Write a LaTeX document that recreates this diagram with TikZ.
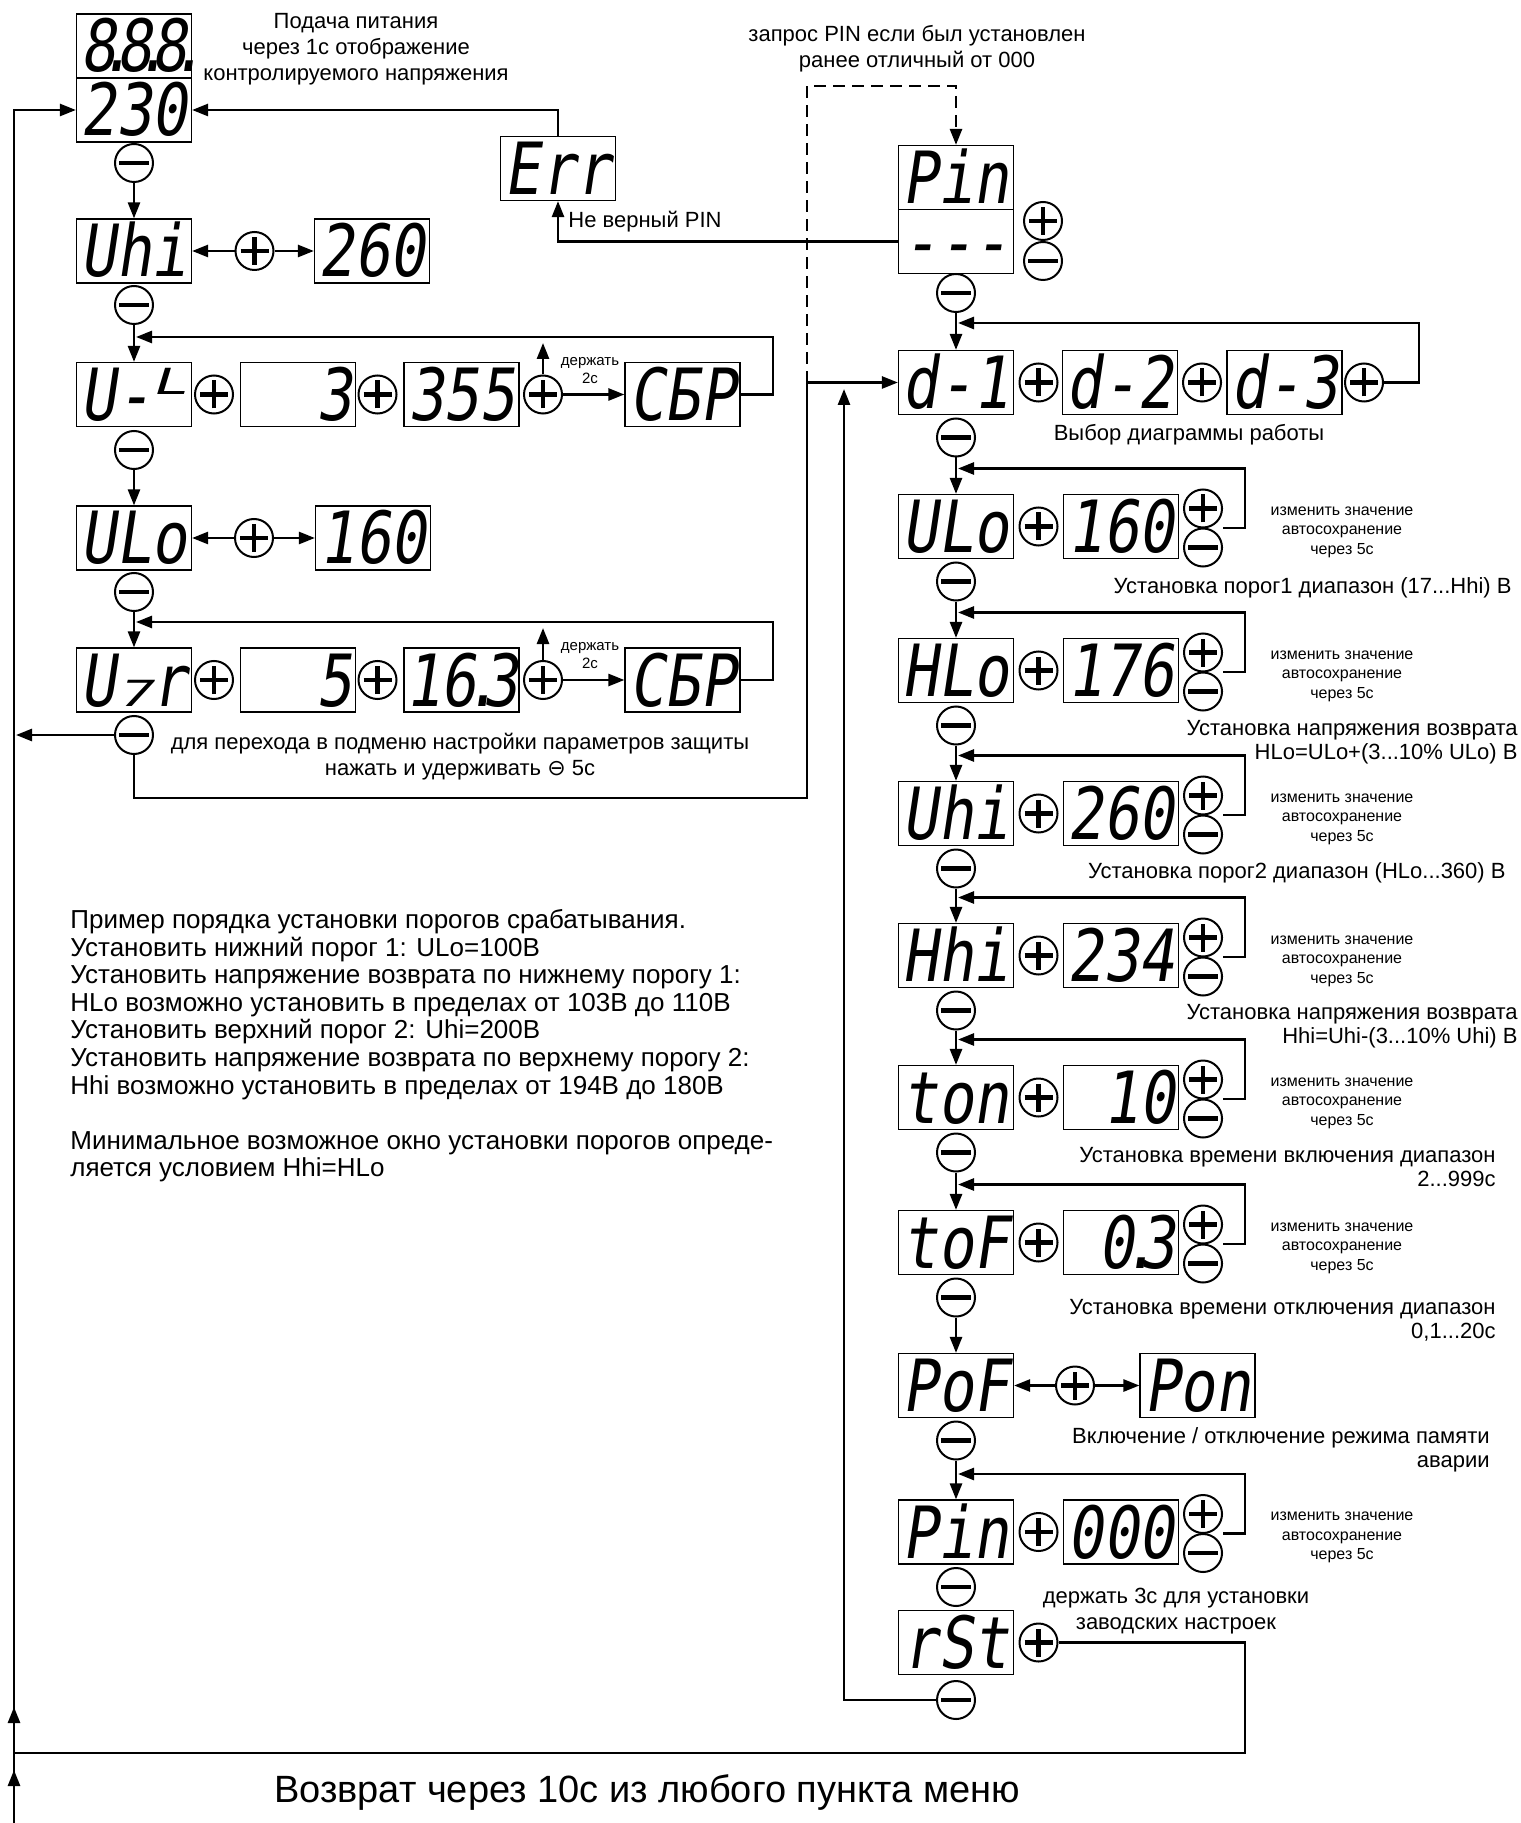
\documentclass[tikz,border=0pt]{standalone}
\usepackage{fontspec}
\setmainfont{Liberation Sans}
\newfontfamily\segfont{DejaVu Sans Mono}[FakeStretch=0.82,FakeSlant=0.15]
\newfontfamily\symfont{DejaVu Sans}
\usepackage{xcolor}
\usepackage{tikz}
\usetikzlibrary{arrows.meta,calc}
\newcommand{\dpt}{\kern-.24em\rlap{.}\kern.24em}
\newcommand{\dpw}{\kern-.16em\rlap{.}\kern.24em}

\tikzset{
  disp/.style={draw,line width=0.6pt,minimum width=57.5pt,minimum height=32pt,inner sep=0pt,
    text height=26pt,text depth=0pt,font=\segfont\fontsize{36}{36}\selectfont},
  rdisp/.style={disp,text width=54pt,align=right},
  btn/.style={circle,draw,line width=1pt,minimum size=19pt,inner sep=0pt},
  pbtn/.style={btn,path picture={
    \draw[line width=2.2pt] ([xshift=-7pt]path picture bounding box.center) -- ([xshift=7pt]path picture bounding box.center);
    \draw[line width=2.2pt] ([yshift=-7pt]path picture bounding box.center) -- ([yshift=7pt]path picture bounding box.center);}},
  mbtn/.style={btn,path picture={
    \draw[line width=2.2pt] ([xshift=-7.5pt]path picture bounding box.center) -- ([xshift=7.5pt]path picture bounding box.center);}},
  link/.style={line width=1.3pt,-{Triangle[length=8pt,width=6pt]}},
  wire/.style={line width=1.3pt},
  txt/.style={font=\fontsize{11}{13}\selectfont,align=center,inner sep=0pt},
  remark/.style={font=\fontsize{11}{12}\selectfont,align=right,anchor=east,inner sep=0pt},
  memo/.style={font=\fontsize{8}{9.75}\selectfont,align=center,inner sep=0pt},
  hold/.style={font=\fontsize{7.5}{9}\selectfont,align=center,inner sep=0pt}
}

\begin{document}
\begin{tikzpicture}[x=0.5pt,y=-0.5pt]
\useasboundingbox (0,0) rectangle (1520,1823);
% left column
	\node[disp] at (134,46) (t888) {8\dpt8\dpt8\dpt};
	\node[disp] at (134,110) (t230) {230};
	\node[txt] at (356,49) (power) {Подача питания\\через 1с отображение\\контролируемого напряжения};
	\node[disp] at (558,168.5) (err) {Err};
	\node[txt,anchor=west] at (568,222) (badpin) {Не верный PIN};
	\node[mbtn] at (134,163) (m0) {};
	\node[disp] at (134,251) (uhi) {Uhi};
	\node[pbtn] at (254.5,251) (p0) {};
	\node[disp] at (372,251) (v260) {260};
	\node[mbtn] at (134,305) (m1) {};
	\node[disp] at (134,394.5) (ul) {U-\raisebox{.36em}{\scalebox{1}[.5]{L}}};
	\node[pbtn] at (214,394.5) (pa) {};
	\node[rdisp] at (298,394.5) (v3) {3};
	\node[pbtn] at (377.5,394.5) (pb) {};
	\node[disp] at (461.5,394.5) (v355) {355};
	\node[pbtn] at (543,394.5) (pc) {};
	\node[disp] at (682.5,394.5) (cbp1) {СБР};
	\node[hold] at (590,371) (hold1) {держать\\2с};
	\node[mbtn] at (134,450) (m2) {};
	\node[disp] at (134,538) (ulo) {ULo};
	\node[pbtn] at (254,538) (p1) {};
	\node[disp] at (373,538) (v160) {160};
	\node[mbtn] at (134,592) (m3) {};
	\node[disp] at (134,680) (utr) {U\scalebox{1}[.5]{7}r};
	\node[pbtn] at (214,680) (pd) {};
	\node[rdisp] at (298,680) (v5) {5};
	\node[pbtn] at (377.5,680) (pe) {};
	\node[disp] at (461.5,680) (v163) {16\dpw3};
	\node[pbtn] at (543,680) (pf) {};
	\node[disp] at (682.5,680) (cbp2) {СБР};
	\node[hold] at (590,656) (hold2) {держать\\2с};
	\node[mbtn] at (134,735) (m4) {};
	\node[txt] at (460,757) (subnote) {для перехода в подменю настройки параметров защиты\\нажать и удерживать {\symfont ⊖} 5с};
	\node[font=\fontsize{13}{13.8}\selectfont,align=left,anchor=north west,inner sep=0pt] at (70,909) (example) {Пример порядка установки порогов срабатывания.\\Установить нижний порог 1: ULo=100В\\Установить напряжение возврата по нижнему порогу 1:\\HLo возможно установить в пределах от 103В до 110В\\Установить верхний порог 2: Uhi=200В\\Установить напряжение возврата по верхнему порогу 2:\\Hhi возможно установить в пределах от 194В до 180В\\[13.8pt]Минимальное возможное окно установки порогов опреде-\\ляется условием Hhi=HLo};
	\node[font=\fontsize{19}{22}\selectfont] at (647,1792) (back) {Возврат через 10с из любого пункта меню};
	\coordinate (bot) at (14,1823);
	\coordinate (tipa) at (14,1707);
	\coordinate (tipb) at (14,1770);
	\coordinate (jl) at (14,1753);
	\coordinate (r1) at (773,337);
	\coordinate (r2) at (773,622);
	\coordinate (h1) at (543,343);
	\coordinate (h2) at (543,628);
	\coordinate (j1) at (807,798);
	\coordinate (jd) at (807,383);
	\coordinate (dtop) at (807,86);
	\coordinate (jr) at (844,389);
	\coordinate (rc) at (1245,1753);
% right column
	\node[txt] at (917,48.5) (pinreq) {запрос PIN если был установлен\\ранее отличный от 000};
	\node[disp] at (956,177.5) (pinname) {Pin};
	\node[disp] at (956,241.5) (pinval) {-{}-{}-};
	\node[pbtn] at (1043,221) (ppin) {};
	\node[mbtn] at (1043,261) (mpin) {};
	\node[mbtn] at (956,293) (mp0) {};
	\node[disp] at (956,382.5) (d1) {d-1};
	\node[pbtn] at (1038.5,382.5) (pd1) {};
	\node[disp] at (1120,382.5) (d2) {d-2};
	\node[pbtn] at (1202,382.5) (pd2) {};
	\node[disp] at (1284.5,382.5) (d3) {d-3};
	\node[pbtn] at (1364,382.5) (pd3) {};
	\coordinate (rd) at (1419,323);
	\node[txt] at (1189,435) (dsel) {Выбор диаграммы работы};
	\node[mbtn] at (956,437.5) (md) {};

	\node[disp] at (956,526.5) (ulo2) {ULo};
	\node[pbtn] at (1038.5,526.5) (pulo) {};
	\node[disp] at (1121,526.5) (vulo) {160};
	\node[pbtn] at (1203,508.5) (pulo2) {};
	\node[mbtn] at (1203,547.5) (mulo2) {};
	\node[memo] at (1342,532) (nulo) {изменить значение\\автосохранение\\через 5с};
	\node[remark] at (1512,588) (culo) {Установка порог1 диапазон (17...Hhi) В};
	\node[mbtn] at (956,581.5) (mulo) {};
	\coordinate (rulo) at (1245,468.5);

	\node[disp] at (956,670.5) (hlo) {HLo};
	\node[pbtn] at (1038.5,670.5) (phlo) {};
	\node[disp] at (1121,670.5) (vhlo) {176};
	\node[pbtn] at (1203,652.5) (phlo2) {};
	\node[mbtn] at (1203,691.5) (mhlo2) {};
	\node[memo] at (1342,676) (nhlo) {изменить значение\\автосохранение\\через 5с};
	\node[remark] at (1518,742.5) (chlo) {Установка напряжения возврата\\HLo=ULo+(3...10\% ULo) В};
	\node[mbtn] at (956,725.5) (mhlo) {};
	\coordinate (rhlo) at (1245,612.5);

	\node[disp] at (956,813.5) (uhi2) {Uhi};
	\node[pbtn] at (1038.5,813.5) (puhi) {};
	\node[disp] at (1121,813.5) (vuhi) {260};
	\node[pbtn] at (1203,795.5) (puhi2) {};
	\node[mbtn] at (1203,834.5) (muhi2) {};
	\node[memo] at (1342,819) (nuhi) {изменить значение\\автосохранение\\через 5с};
	\node[remark] at (1506,873) (cuhi) {Установка порог2 диапазон (HLo...360) В};
	\node[mbtn] at (956,868.5) (muhi) {};
	\coordinate (ruhi) at (1245,755.5);

	\node[disp] at (956,955.5) (hhi) {Hhi};
	\node[pbtn] at (1038.5,955.5) (phhi) {};
	\node[disp] at (1121,955.5) (vhhi) {234};
	\node[pbtn] at (1203,937.5) (phhi2) {};
	\node[mbtn] at (1203,976.5) (mhhi2) {};
	\node[memo] at (1342,961) (nhhi) {изменить значение\\автосохранение\\через 5с};
	\node[remark] at (1518,1026.5) (chhi) {Установка напряжения возврата\\Hhi=Uhi-(3...10\% Uhi) В};
	\node[mbtn] at (956,1010.5) (mhhi) {};
	\coordinate (rhhi) at (1245,897.5);

	\node[disp] at (956,1097.5) (ton) {ton};
	\node[pbtn] at (1038.5,1097.5) (pton) {};
	\node[rdisp] at (1121,1097.5) (vton) {10};
	\node[pbtn] at (1203,1079.5) (pton2) {};
	\node[mbtn] at (1203,1118.5) (mton2) {};
	\node[memo] at (1342,1103) (nton) {изменить значение\\автосохранение\\через 5с};
	\node[remark] at (1496,1167.5) (cton) {Установка времени включения диапазон\\2...999с};
	\node[mbtn] at (956,1152.5) (mton) {};
	\coordinate (rton) at (1245,1039.5);

	\node[disp] at (956,1242.5) (tof) {toF};
	\node[pbtn] at (1038.5,1242.5) (ptof) {};
	\node[rdisp] at (1121,1242.5) (vtof) {0\dpw3};
	\node[pbtn] at (1203,1224.5) (ptof2) {};
	\node[mbtn] at (1203,1263.5) (mtof2) {};
	\node[memo] at (1342,1248) (ntof) {изменить значение\\автосохранение\\через 5с};
	\node[remark] at (1496,1320) (ctof) {Установка времени отключения диапазон\\0,1...20с};
	\node[mbtn] at (956,1297.5) (mtof) {};
	\coordinate (rtof) at (1245,1184.5);

	\node[disp] at (956,1385.5) (pof) {PoF};
	\node[pbtn] at (1075,1385.5) (ppof) {};
	\node[disp] at (1197.5,1385.5) (pon) {Pon};
	\node[remark] at (1490,1449.5) (cpof) {Включение / отключение режима памяти\\аварии};
	\node[mbtn] at (956,1440.5) (mpof) {};

	\node[disp] at (956,1532) (pin2) {Pin};
	\node[pbtn] at (1038.5,1532) (ppin2) {};
	\node[disp] at (1121,1532) (vpin) {000};
	\node[pbtn] at (1203,1514) (ppin3) {};
	\node[mbtn] at (1203,1553) (mpin3) {};
	\node[memo] at (1342,1537.5) (npin) {изменить значение\\автосохранение\\через 5с};
	\node[mbtn] at (956,1587) (mpin2) {};
	\coordinate (rpin) at (1245,1474);
	\node[txt] at (1176,1611) (reset) {держать 3с для установки\\заводских настроек};

	\node[disp] at (956,1642.5) (rst) {rSt};
	\node[pbtn] at (1038.5,1642.5) (prst) {};
	\node[mbtn] at (956,1700) (mrst) {};

% connectors, left
	\draw[link] (bot) |- (t230.west);
	\draw[link] (bot) -- (tipb);
	\draw[link] (jl) -- (tipa);
	\draw[wire] (prst) -| (rc) -- (jl);
	\draw[link] (err.north) |- (t230.east);
	\draw[link] (pinval.west) -| (err.south);
	\draw[link,dash pattern=on 6pt off 3.5pt] (jd) -- (dtop) -| (pinname.north);
	\draw[link] (m0) -- (uhi);
	\draw[link] (p0) -- (uhi);
	\draw[link] (p0) -- (v260);
	\draw[link] (m1) -- (ul);
	\draw[link] (pc) -- (cbp1);
	\draw[link] (pc) -- (h1);
	\draw[link] (cbp1.east) -| (r1) -- ($(r1 -| m1)+(1pt,0)$);
	\draw[link] (m2) -- (ulo);
	\draw[link] (p1) -- (ulo);
	\draw[link] (p1) -- (v160);
	\draw[link] (m3) -- (utr);
	\draw[link] (pf) -- (cbp2);
	\draw[link] (pf) -- (h2);
	\draw[link] (cbp2.east) -| (r2) -- ($(r2 -| m3)+(1pt,0)$);
	\draw[link] (m4) -- ($(m4 -| bot)+(1pt,0)$);
	\draw[link] (m4) |- (j1) |- (d1);
	\draw[link] (mrst) -| (jr);
% connectors, right
	\draw[link] (mp0) -- (d1);
	\draw[link] (pd3) -| (rd) -- ($(rd -| mp0)+(1pt,0)$);
	\draw[link] (md) -- (ulo2);
	\draw[link] ($(pulo2.east)!.5!(mulo2.east)$) -| (rulo) -- ($(rulo -| md)+(1pt,0)$);
	\draw[link] (mulo) -- (hlo);
	\draw[link] ($(phlo2.east)!.5!(mhlo2.east)$) -| (rhlo) -- ($(rhlo -| mulo)+(1pt,0)$);
	\draw[link] (mhlo) -- (uhi2);
	\draw[link] ($(puhi2.east)!.5!(muhi2.east)$) -| (ruhi) -- ($(ruhi -| mhlo)+(1pt,0)$);
	\draw[link] (muhi) -- (hhi);
	\draw[link] ($(phhi2.east)!.5!(mhhi2.east)$) -| (rhhi) -- ($(rhhi -| muhi)+(1pt,0)$);
	\draw[link] (mhhi) -- (ton);
	\draw[link] ($(pton2.east)!.5!(mton2.east)$) -| (rton) -- ($(rton -| mhhi)+(1pt,0)$);
	\draw[link] (mton) -- (tof);
	\draw[link] ($(ptof2.east)!.5!(mtof2.east)$) -| (rtof) -- ($(rtof -| mton)+(1pt,0)$);
	\draw[link] (mtof) -- (pof);
	\draw[link] (ppof) -- (pof);
	\draw[link] (ppof) -- (pon);
	\draw[link] (mpof) -- (pin2);
	\draw[link] ($(ppin3.east)!.5!(mpin3.east)$) -| (rpin) -- ($(rpin -| mpof)+(1pt,0)$);
\end{tikzpicture}
\end{document}
